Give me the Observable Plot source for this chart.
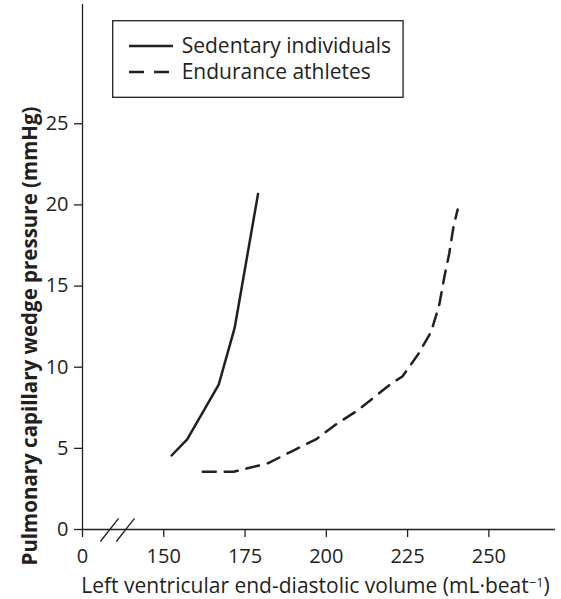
<!DOCTYPE html>
<html><head><meta charset="utf-8">
<script src="https://cdn.jsdelivr.net/npm/d3@7"></script>
<script src="https://cdn.jsdelivr.net/npm/@observablehq/plot@0.6"></script>
<style>
html,body{margin:0;padding:0;background:#fff;}
svg{display:block;}
</style></head><body><div id="chart"></div>
<script>
// ---- data ----
const seriesNames = ["Sedentary individuals", "Endurance athletes"];
const sedentaryX = [152.4, 157.2, 166.9, 171.8, 179.0];
const sedentaryY = [4.56, 5.56, 8.93, 12.42, 20.68];
const athleteX = [162.0, 171.5, 182.0, 189.4, 196.8, 203.5, 209.6, 220.1, 223.4, 228.2, 232.2, 234.7, 236.2, 237.8, 239.1, 240.4];
const athleteY = [3.56, 3.56, 4.08, 4.82, 5.55, 6.55, 7.33, 9.01, 9.43, 10.78, 12.16, 13.80, 15.45, 16.99, 18.63, 19.72];
const xTickValues = [150, 175, 200, 225, 250];
const yTickValues = [0, 5, 10, 15, 20, 25];
const xZeroAt = 125;              // where the broken axis shows "0"
const breakX1 = [130.5, 135.4], breakX2 = [136.1, 141.0];
const breakY1 = [-0.74, -0.74], breakY2 = [0.68, 0.68];
const xTitle = "Left ventricular end-diastolic volume (mL·beat";
const xTitleSup = "−1";
const yTitle = "Pulmonary capillary wedge pressure (mmHg)";

// ---- build ----
const ink = "#231f20";
const font = "'Open Sans', sans-serif";
const sed = sedentaryX.map((x, i) => ({x, y: sedentaryY[i]}));
const ath = athleteX.map((x, i) => ({x, y: athleteY[i]}));
const breaks = breakX1.map((x1, i) => ({x1, x2: breakX2[i], y1: breakY1[i], y2: breakY2[i]}));

const plot = Plot.plot({
  width: 561, height: 599,
  marginLeft: 82, marginRight: 6, marginTop: 4, marginBottom: 70,
  style: {fontFamily: font, fontSize: "20px", color: ink, background: "#fff", overflow: "visible"},
  x: {domain: [xZeroAt, 270.5], label: null},
  y: {domain: [0, 32.35], label: null},
  marks: [
    Plot.axisX({ticks: [xZeroAt, ...xTickValues], tickFormat: d => d === xZeroAt ? "0" : String(d),
      tickSize: 8, tickPadding: 11, stroke: ink, strokeWidth: 1.3, fill: ink, fontSize: 20, label: null}),
    Plot.axisY({ticks: yTickValues, tickSize: 8, tickPadding: 6, stroke: ink, strokeWidth: 1.3, fill: ink, fontSize: 20, label: null}),
    Plot.ruleY([0], {stroke: ink, strokeWidth: 1.3}),
    Plot.ruleX([xZeroAt], {stroke: ink, strokeWidth: 1.3}),
    Plot.link(breaks, {x1: "x1", y1: "y1", x2: "x2", y2: "y2", stroke: ink, strokeWidth: 1.3}),
    Plot.line(sed, {x: "x", y: "y", stroke: ink, strokeWidth: 2.5}),
    Plot.line(ath, {x: "x", y: "y", stroke: ink, strokeWidth: 2.5, strokeDasharray: "13,9"})
  ]
});
document.getElementById("chart").appendChild(plot);

const svg = d3.select(plot);
// x title
const xt = svg.append("text").attr("x", 315.5).attr("y", 593).attr("text-anchor", "middle")
  .attr("fill", ink).style("font-family", font).style("font-size", "21px");
xt.append("tspan").text(xTitle);
xt.append("tspan").attr("dy", "-0.45em").style("font-size", "13px").text(xTitleSup);
xt.append("tspan").attr("dy", "0.3em").text(")");
// y title
svg.append("text").attr("transform", "translate(36.5,336) rotate(-90)").attr("text-anchor", "middle")
  .attr("fill", ink).style("font-family", font).style("font-size", "20.5px").style("font-weight", "bold")
  .text(yTitle);
// legend
const lg = svg.append("g");
const box = lg.append("rect").attr("x", 112.7).attr("y", 20.7).attr("height", 76.6)
  .attr("fill", "#fff").attr("stroke", ink).attr("stroke-width", 1.3);
const rowsY = [46, 72];
let maxEnd = 0;
seriesNames.forEach((name, i) => {
  lg.append("line").attr("x1", 129).attr("x2", 173).attr("y1", rowsY[i]).attr("y2", rowsY[i])
    .attr("stroke", ink).attr("stroke-width", 2.5).attr("stroke-dasharray", i ? "15,10" : null);
  const t = lg.append("text").attr("x", 181.7).attr("y", rowsY[i]).attr("dy", "0.35em")
    .attr("text-anchor", "start").attr("fill", ink)
    .style("font-family", font).style("font-size", "21px").text(name);
  maxEnd = Math.max(maxEnd, 181.7 + t.node().getComputedTextLength());
});
box.attr("width", maxEnd + 12 - 112.7);
</script></body></html>
